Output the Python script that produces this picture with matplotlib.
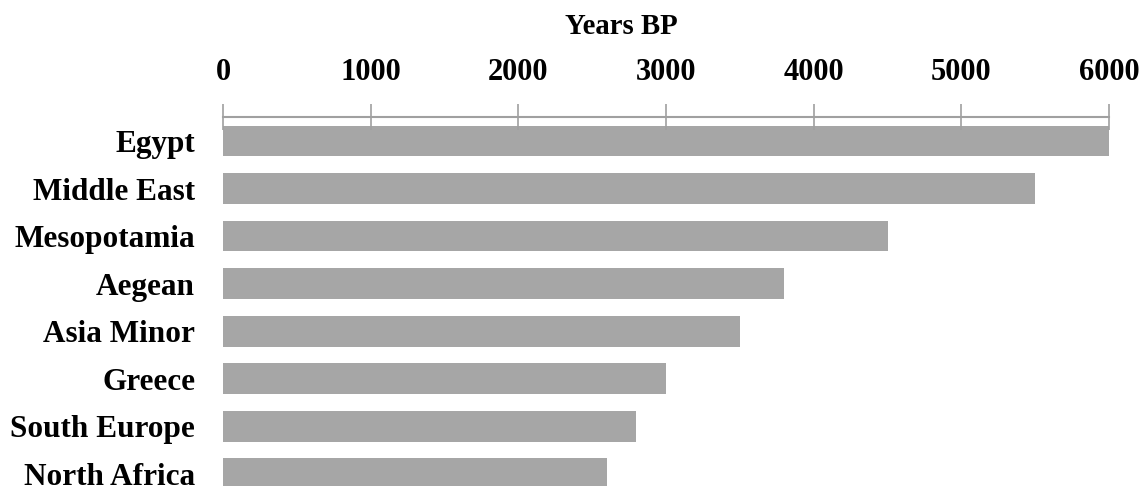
import matplotlib
matplotlib.use("Agg")
import matplotlib.pyplot as plt

regions = ["Egypt", "Middle East", "Mesopotamia", "Aegean", "Asia Minor",
           "Greece", "South Europe", "North Africa"]
years_bp = [6000, 5500, 4500, 3800, 3500, 3000, 2800, 2600]
ticks = [0, 1000, 2000, 3000, 4000, 5000, 6000]

plt.rcParams['font.family'] = ['Liberation Serif', 'DejaVu Serif']
plt.rcParams['font.weight'] = 'bold'

W, H = 1147, 486
fig = plt.figure(figsize=(W / 100, H / 100), dpi=100)
ax = fig.add_axes([223 / W, 0, (1109 - 223) / W, 1 - 117 / H])

ypos = list(range(len(regions)))
ax.barh(ypos, years_bp, height=0.65, color='#a6a6a6', edgecolor='none')

ax.set_xlim(0, 6000)
ax.set_ylim(7.26, -0.505)
ax.xaxis.tick_top()
ax.set_xticks(ticks)
ax.set_xticklabels([str(t) for t in ticks], fontsize=22, fontweight='bold')
ax.tick_params(axis='x', direction='inout', length=19, width=1.2,
               color='#a0a0a0', pad=12)
ax.set_yticks(ypos)
ax.set_yticklabels(regions, fontsize=22.5, fontweight='bold')
ax.tick_params(axis='y', length=0, pad=20)

for s in ['bottom', 'left', 'right']:
    ax.spines[s].set_visible(False)
ax.spines['top'].set_color('#a0a0a0')
ax.spines['top'].set_linewidth(1.5)

fig.text(621 / W, 1 - 34 / H, "Years BP", ha='center', va='baseline',
         fontsize=20.7, fontweight='bold')

fig.savefig("out.png", dpi=100)
